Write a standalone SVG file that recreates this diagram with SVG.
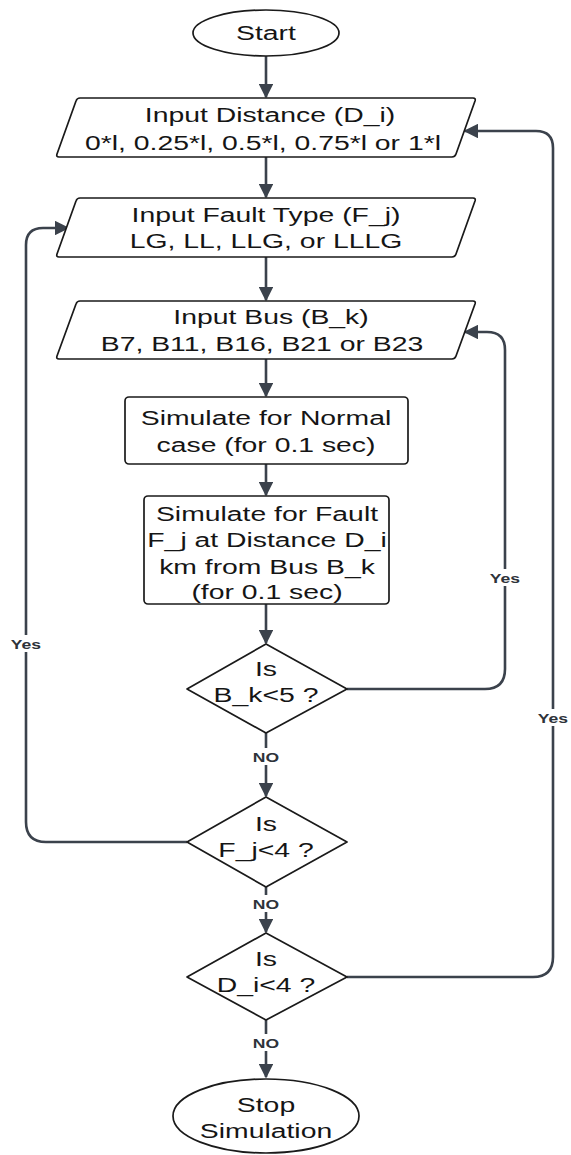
<svg xmlns="http://www.w3.org/2000/svg" width="571" height="1155" viewBox="0 0 571 1155">
  <defs>
    <style>
      .shape { fill: #ffffff; stroke: #1a1a1a; stroke-width: 1.7; stroke-linejoin: round; }
      .t { font-family: "Liberation Sans", Arial, sans-serif; font-size: 21px; fill: #151515; text-anchor: middle; }
      .edge { fill: none; stroke: #3b424c; stroke-width: 2.6; stroke-linecap: butt; stroke-linejoin: round; }
      .lbl { font-family: "Liberation Sans", Arial, sans-serif; font-size: 13px; font-weight: bold; fill: #2e333a; text-anchor: middle; }
      .lblbg { fill: #ffffff; }
    </style>
    <marker id="arrow" viewBox="0 0 10 10" refX="9" refY="5" markerWidth="5.6" markerHeight="5.6" orient="auto" markerUnits="strokeWidth">
      <path d="M0,0 L10,5 L0,10 Z" fill="#3b424c"/>
    </marker>
  </defs>
  <rect width="571" height="1155" fill="#ffffff"/>

  <!-- connectors -->
  <g id="connectors">
    <path class="edge" d="M266,56 V97" marker-end="url(#arrow)"/>
    <path class="edge" d="M266,157 V197" marker-end="url(#arrow)"/>
    <path class="edge" d="M266,257 V300" marker-end="url(#arrow)"/>
    <path class="edge" d="M266,359 V396" marker-end="url(#arrow)"/>
    <path class="edge" d="M266,464 V495" marker-end="url(#arrow)"/>
    <path class="edge" d="M266,604 V643" marker-end="url(#arrow)"/>
    <path class="edge" d="M266,733 V796" marker-end="url(#arrow)"/>
    <path class="edge" d="M266,887 V932" marker-end="url(#arrow)"/>
    <path class="edge" d="M266,1020 V1077" marker-end="url(#arrow)"/>
    <!-- B_k loop back to bus input -->
    <path class="edge" d="M347,689 H485 Q505,689 505,669 V350 Q505,332 487,332 H465" marker-end="url(#arrow)"/>
    <!-- F_j loop back to fault type input -->
    <path class="edge" d="M187,842 H46 Q26,842 26,822 V245 Q26,228 43,228 H68" marker-end="url(#arrow)"/>
    <!-- D_i loop back to distance input -->
    <path class="edge" d="M347,977 H533 Q553,977 553,957 V148 Q553,131 536,131 H465" marker-end="url(#arrow)"/>

    <g id="edge-labels">
      <rect class="lblbg" x="489" y="569" width="33" height="17"/>
      <text class="lbl" transform="translate(505,583) scale(1.35,1)">Yes</text>
      <rect class="lblbg" x="9" y="635" width="34" height="17"/>
      <text class="lbl" transform="translate(26,649) scale(1.35,1)">Yes</text>
      <rect class="lblbg" x="536" y="709" width="34" height="17"/>
      <text class="lbl" transform="translate(553,723) scale(1.35,1)">Yes</text>
      <rect class="lblbg" x="249" y="748" width="34" height="17"/>
      <text class="lbl" transform="translate(266,762) scale(1.35,1)">NO</text>
      <rect class="lblbg" x="249" y="895" width="34" height="17"/>
      <text class="lbl" transform="translate(266,909) scale(1.35,1)">NO</text>
      <rect class="lblbg" x="249" y="1034" width="34" height="17"/>
      <text class="lbl" transform="translate(266,1048) scale(1.35,1)">NO</text>
    </g>
  </g>

  <g id="start">
    <ellipse class="shape" cx="266" cy="33" rx="73" ry="23"/>
    <text class="t" transform="translate(266,40) scale(1.35,1)">Start</text>
  </g>

  <g id="input-distance">
    <path class="shape" d="M80,98 H473 Q476,98 475,101 L456,154 Q455,157 452,157 H59 Q56,157 57,154 L76,101 Q77,98 80,98 Z"/>
    <text class="t" transform="translate(270,122) scale(1.35,1)">Input Distance (D_i)</text>
    <text class="t" transform="translate(263,150) scale(1.35,1)">0*l, 0.25*l, 0.5*l, 0.75*l or 1*l</text>
  </g>

  <g id="input-fault-type">
    <path class="shape" d="M80,198 H473 Q476,198 475,201 L456,254 Q455,257 452,257 H59 Q56,257 57,254 L76,201 Q77,198 80,198 Z"/>
    <text class="t" transform="translate(266,222) scale(1.35,1)">Input Fault Type (F_j)</text>
    <text class="t" transform="translate(266,248) scale(1.35,1)">LG, LL, LLG, or LLLG</text>
  </g>

  <g id="input-bus">
    <path class="shape" d="M80,301 H473 Q476,301 475,304 L456,356 Q455,359 452,359 H59 Q56,359 57,356 L76,304 Q77,301 80,301 Z"/>
    <text class="t" transform="translate(271,324) scale(1.35,1)">Input Bus (B_k)</text>
    <text class="t" transform="translate(262,351) scale(1.35,1)">B7, B11, B16, B21 or B23</text>
  </g>

  <g id="simulate-normal">
    <rect class="shape" x="125" y="397" width="283" height="67" rx="4"/>
    <text class="t" transform="translate(266,425) scale(1.35,1)">Simulate for Normal</text>
    <text class="t" transform="translate(266,452) scale(1.35,1)">case (for 0.1 sec)</text>
  </g>

  <g id="simulate-fault">
    <rect class="shape" x="144" y="496" width="245" height="108" rx="4"/>
    <text class="t" transform="translate(267,521) scale(1.35,1)">Simulate for Fault</text>
    <text class="t" transform="translate(267,547) scale(1.35,1)">F_j at Distance D_i</text>
    <text class="t" transform="translate(267,574) scale(1.35,1)">km from Bus B_k</text>
    <text class="t" transform="translate(267,599) scale(1.35,1)">(for 0.1 sec)</text>
  </g>

  <g id="check-bus">
    <path class="shape" d="M266,644 L347,689 L266,733 L187,689 Z"/>
    <text class="t" transform="translate(266,676) scale(1.35,1)">Is</text>
    <text class="t" transform="translate(266,702) scale(1.35,1)">B_k&lt;5 ?</text>
  </g>

  <g id="check-fault">
    <path class="shape" d="M266,797 L347,842 L266,887 L187,842 Z"/>
    <text class="t" transform="translate(266,831) scale(1.35,1)">Is</text>
    <text class="t" transform="translate(266,857) scale(1.35,1)">F_j&lt;4 ?</text>
  </g>

  <g id="check-distance">
    <path class="shape" d="M266,933 L347,977 L266,1020 L187,977 Z"/>
    <text class="t" transform="translate(266,966) scale(1.35,1)">Is</text>
    <text class="t" transform="translate(266,992) scale(1.35,1)">D_i&lt;4 ?</text>
  </g>

  <g id="stop">
    <ellipse class="shape" cx="266" cy="1116" rx="93" ry="37"/>
    <text class="t" transform="translate(266,1112) scale(1.35,1)">Stop</text>
    <text class="t" transform="translate(266,1138) scale(1.35,1)">Simulation</text>
  </g>
</svg>
